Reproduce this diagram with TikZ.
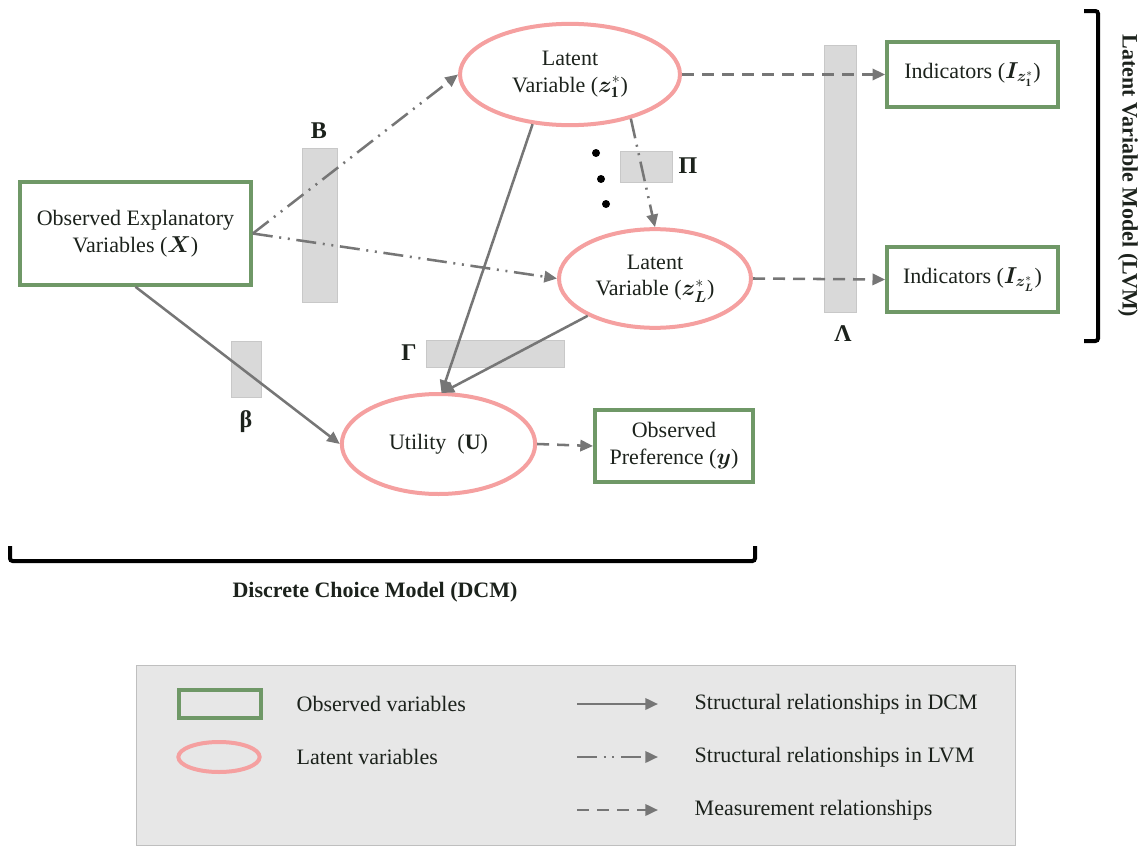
\documentclass[tikz,border=0pt]{standalone}
\usepackage{amsmath,bm}
\usepackage{fontspec}
\setmainfont{Liberation Serif}
\usetikzlibrary{arrows.meta,shapes.geometric,calc}

\definecolor{obsgreen}{HTML}{6F9867}
\definecolor{latpink}{HTML}{F5A0A0}
\definecolor{arrowgray}{HTML}{767676}
\definecolor{panelgray}{HTML}{D9D9D9}
\definecolor{legendbg}{HTML}{E7E7E7}
\definecolor{inkdark}{HTML}{1C221C}

\tikzset{
  txt/.style={font=\fontsize{16.5}{20}\selectfont, text=inkdark},
  obsbox/.style={txt, draw=obsgreen, line width=3pt, fill=white, align=center, inner sep=0pt},
  latent/.style={txt, ellipse, draw=latpink, line width=3pt, fill=white, align=center, inner sep=0pt},
  panel/.style={fill=panelgray, draw=panelgray!92!black, line width=0.5pt},
  coef/.style={font=\fontsize{18}{20}\selectfont\bfseries, text=inkdark},
  dcmarrow/.style={draw=arrowgray, line width=1.9pt, -{Triangle[length=9.5pt,width=8.5pt]}},
  lvmarrow/.style={dcmarrow, dash pattern=on 15pt off 5pt on 1.5pt off 5pt on 1.5pt off 5pt},
  measarrow/.style={dcmarrow, dash pattern=on 9pt off 6pt},
  bracket/.style={draw=black, line width=3pt, rounded corners=2pt},
}

\begin{document}
\begin{tikzpicture}[x=0.75pt, y=-0.75pt]
\useasboundingbox (0,0) rectangle (1143,846);

% coefficient panels (behind the connectors)
\path[panel] (302,148) rectangle (337,302);
\path[panel] (620,151) rectangle (672,182);
\path[panel] (824,45) rectangle (856,312);
\path[panel] (426,340) rectangle (564,367);
\path[panel] (231,341) rectangle (261,397);

\node[coef] (lblB) at (319,131) {Β};
\node[coef] (lblPi) at (688,166) {Π};
\node[coef] (lblLambda) at (843,334) {Λ};
\node[coef] (lblGamma) at (409,353) {Γ};
\node[coef] (lblbeta) at (246,422) {β};

% variables
\node[obsbox, minimum width=173pt, minimum height=77pt] (X) at (135.5,233.5)
  {Observed Explanatory\\Variables ($\boldsymbol{X}$)};
\node[latent, minimum width=165pt, minimum height=76pt] (z1) at (570,74.5)
  {Latent\\Variable ($\boldsymbol{z}^{*}_{\mathbf{1}}$)};
\node[latent, minimum width=144pt, minimum height=74pt] (zL) at (655,278.5)
  {Latent\\Variable ($\boldsymbol{z}^{*}_{\boldsymbol{L}}$)};
\node[latent, minimum width=145pt, minimum height=75pt] (U) at (438.5,444)
  {Utility\ \ ($\mathbf{U}$)};
\node[obsbox, minimum width=118.5pt, minimum height=54pt] (pref) at (674,446)
  {Observed\\Preference ($\boldsymbol{y}$)};
\node[obsbox, minimum width=128pt, minimum height=49pt] (I1) at (972.5,74.5)
  {Indicators ($\boldsymbol{I}_{\boldsymbol{z}^{*}_{\mathbf{1}}}$)};
\node[obsbox, minimum width=128pt, minimum height=49pt] (IL) at (972.5,279.5)
  {Indicators ($\boldsymbol{I}_{\boldsymbol{z}^{*}_{\boldsymbol{L}}}$)};

% ellipsis between the latent variables
\fill[black] (596,153) circle (3pt);
\fill[black] (601,179) circle (3pt);
\fill[black] (606,204) circle (3pt);

% structural relationships in the LVM
\draw[lvmarrow] (X.east) -- (z1.west);
\draw[lvmarrow] (X.east) -- (zL.west);
\draw[lvmarrow] (z1.-36) -- (zL.north);

% structural relationships in the DCM
\draw[dcmarrow] (X.south) -- (U.west);
\draw[dcmarrow] (z1.-127) -- ($(U.north)+(3,1)$);
\draw[dcmarrow] (zL.-151) -- ($(U.north)+(3,1)$);

% measurement relationships
\draw[measarrow] (z1.east) -- (I1.west);
\draw[measarrow] (zL.east) -- (IL.west);
\draw[measarrow] (U.east) -- (pref.west);

% model brackets
\draw[bracket] (1084,11) -- (1098,11) -- (1098,341) -- (1084,341);
\node[txt, font=\fontsize{16.5}{20}\selectfont\bfseries, rotate=-90] (lvmlabel) at (1128,176)
  {Latent Variable Model (LVM)};
\draw[bracket] (10,546) -- (10,561) -- (755,561) -- (755,546);
\node[txt, font=\fontsize{16.5}{20}\selectfont\bfseries] (dcmlabel) at (375,592)
  {Discrete Choice Model (DCM)};

% legend
\path[fill=legendbg, draw=black!25, line width=0.6pt] (136,665) rectangle (1015,845);
\node[obsbox, fill=none, minimum width=61.5pt, minimum height=21pt] (legobs) at (220,704) {};
\node[latent, fill=none, minimum width=61pt, minimum height=22.5pt] (leglat) at (219,757) {};
\node[txt, anchor=west] (legobstext) at (292,704) {Observed variables};
\node[txt, anchor=west] (leglattext) at (292,757) {Latent variables};
\coordinate (a1) at (577,704); \coordinate (b1) at (658,704);
\coordinate (a2) at (577,757); \coordinate (b2) at (658,757);
\coordinate (a3) at (577,810); \coordinate (b3) at (658,810);
\draw[dcmarrow] (a1) -- (b1);
\draw[lvmarrow] (a2) -- (b2);
\draw[measarrow] (a3) -- (b3);
\node[txt, anchor=west] (legdcm) at (690,704) {Structural relationships in DCM};
\node[txt, anchor=west] (leglvm) at (690,757) {Structural relationships in LVM};
\node[txt, anchor=west] (legmeas) at (690,810) {Measurement relationships};
\end{tikzpicture}
\end{document}
